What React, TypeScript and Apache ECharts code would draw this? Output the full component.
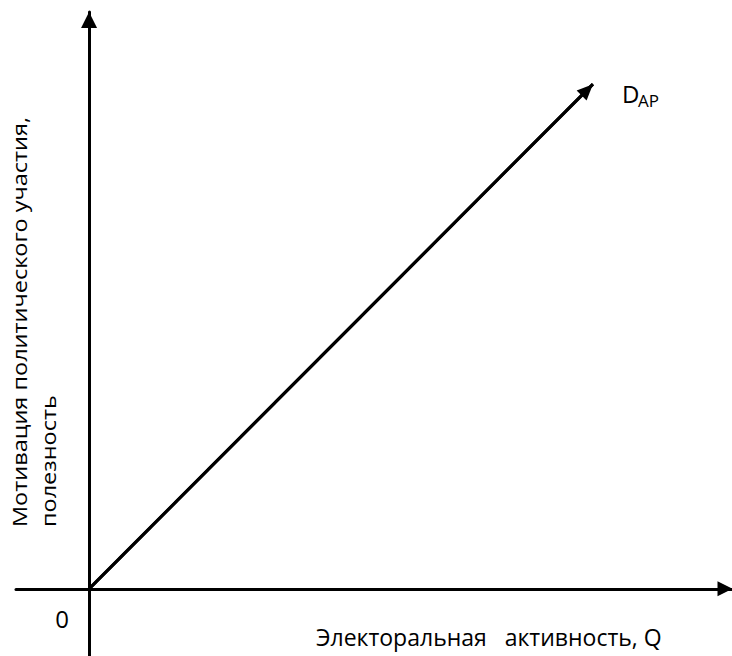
import React, { useEffect, useRef } from "react";
import * as echarts from "echarts";

// Demand line D_AP: from origin, rising at 45°
const demandX = [0, 10];
const demandY = [0, 10];
const xRange = [-1.45, 12.76];
const yRange = [-1.33, 11.43];
const xAxisTitle = "Электоральная   активность, Q";
const yAxisTitle = ["Мотивация политического участия,", "полезность"];
const originLabel = "0";
const curveName = "D";
const curveSub = "AP";

const FONT = "'Open Sans', 'Noto Sans', sans-serif";

export default function App() {
  const ref = useRef<HTMLDivElement>(null);
  useEffect(() => {
    if (!ref.current) return;
    const chart = echarts.init(ref.current, null, { renderer: "svg" });
    const pts = demandX.map((x, i) => [x, demandY[i]]);
    const axisLineStyle = { color: "#000", width: 3 };
    chart.setOption({
      animation: false,
      backgroundColor: "#fff",
      grid: { left: 16, right: 0, top: 12, bottom: 0 },
      xAxis: {
        type: "value",
        min: xRange[0],
        max: xRange[1],
        axisLine: {
          onZero: true,
          lineStyle: axisLineStyle,
          symbol: ["none", "triangle"],
          symbolSize: [15, 15],
          symbolOffset: [0, -7],
        },
        axisTick: { show: false },
        axisLabel: { show: false },
        splitLine: { show: false },
      },
      yAxis: {
        type: "value",
        min: yRange[0],
        max: yRange[1],
        axisLine: {
          onZero: true,
          lineStyle: axisLineStyle,
          symbol: ["none", "triangle"],
          symbolSize: [16, 16],
          symbolOffset: [0, -8],
        },
        axisTick: { show: false },
        axisLabel: { show: false },
        splitLine: { show: false },
      },
      series: [
        {
          type: "line",
          name: curveName + curveSub,
          data: pts,
          showSymbol: false,
          lineStyle: { color: "#000", width: 3 },
          markLine: {
            silent: true,
            symbol: ["none", "triangle"],
            symbolSize: [14, 16],
            symbolOffset: [0, [0, 8]],
            label: { show: false },
            lineStyle: { color: "#000", width: 3, type: "solid" },
            data: [[{ coord: pts[0] }, { coord: pts[1] }]],
          },
        },
      ],
      graphic: [
        {
          type: "text",
          x: 62,
          y: 618,
          style: {
            text: originLabel,
            font: `24px ${FONT}`,
            fill: "#000",
            textAlign: "center",
            textVerticalAlign: "middle",
          },
        },
        {
          type: "text",
          x: 622,
          y: 93,
          style: {
            text: curveName,
            font: `24px ${FONT}`,
            fill: "#000",
            textAlign: "left",
            textVerticalAlign: "middle",
          },
        },
        {
          type: "text",
          x: 638,
          y: 100,
          style: {
            text: curveSub,
            font: `17px ${FONT}`,
            fill: "#000",
            textAlign: "left",
            textVerticalAlign: "middle",
          },
        },
        {
          type: "text",
          x: 316,
          y: 637,
          style: {
            text: xAxisTitle,
            font: `23px ${FONT}`,
            fill: "#000",
            textAlign: "left",
            textVerticalAlign: "middle",
          },
        },
        {
          type: "text",
          x: 5.5,
          y: 527,
          rotation: Math.PI / 2,
          scaleY: 0.82,
          style: {
            text: yAxisTitle.join("\n"),
            font: `23.5px ${FONT}`,
            lineHeight: 35,
            fill: "#000",
            textAlign: "left",
            textVerticalAlign: "top",
          },
        },
      ],
    });
    return () => chart.dispose();
  }, []);
  return <div ref={ref} style={{ width: 732, height: 656, position: "absolute", left: 0, top: 0 }} />;
}
